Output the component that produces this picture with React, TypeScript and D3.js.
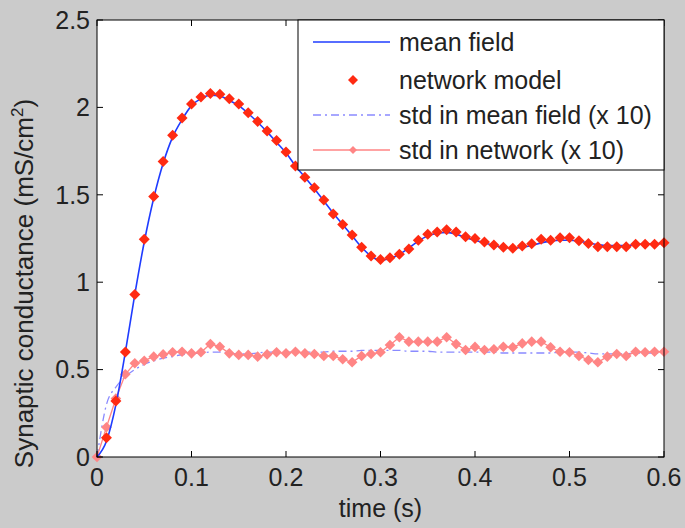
import React from "react";
import * as d3 from "d3";

const TIME = [0, 0.01, 0.02, 0.03, 0.04, 0.05, 0.06, 0.07, 0.08, 0.09, 0.1, 0.11, 0.12, 0.13, 0.14, 0.15, 0.16, 0.17, 0.18, 0.19, 0.2, 0.21, 0.22, 0.23, 0.24, 0.25, 0.26, 0.27, 0.28, 0.29, 0.3, 0.31, 0.32, 0.33, 0.34, 0.35, 0.36, 0.37, 0.38, 0.39, 0.4, 0.41, 0.42, 0.43, 0.44, 0.45, 0.46, 0.47, 0.48, 0.49, 0.5, 0.51, 0.52, 0.53, 0.54, 0.55, 0.56, 0.57, 0.58, 0.59, 0.6];

const MEAN_FIELD = [0, 0.09, 0.3, 0.6, 0.93, 1.23, 1.48, 1.68, 1.83, 1.93, 2.01, 2.05, 2.07, 2.065, 2.04, 2.01, 1.965, 1.915, 1.86, 1.8, 1.74, 1.665, 1.6, 1.535, 1.465, 1.395, 1.33, 1.265, 1.2, 1.15, 1.125, 1.135, 1.16, 1.195, 1.235, 1.265, 1.28, 1.285, 1.275, 1.255, 1.24, 1.225, 1.21, 1.2, 1.195, 1.2, 1.21, 1.225, 1.235, 1.24, 1.24, 1.235, 1.225, 1.215, 1.21, 1.21, 1.21, 1.215, 1.22, 1.22, 1.225];

// network model sampled at TIME[1..60]
const NETWORK = [0.11, 0.32, 0.6, 0.93, 1.245, 1.49, 1.69, 1.84, 1.94, 2.02, 2.06, 2.08, 2.075, 2.05, 2.02, 1.97, 1.92, 1.865, 1.81, 1.745, 1.665, 1.6, 1.54, 1.47, 1.39, 1.33, 1.27, 1.2, 1.15, 1.13, 1.14, 1.16, 1.19, 1.24, 1.275, 1.287, 1.3, 1.287, 1.26, 1.25, 1.23, 1.213, 1.2, 1.194, 1.207, 1.22, 1.245, 1.24, 1.255, 1.255, 1.237, 1.222, 1.203, 1.203, 1.203, 1.203, 1.217, 1.217, 1.217, 1.226];

const STD_MEAN_FIELD = [0, 0.3, 0.4, 0.46, 0.5, 0.53, 0.55, 0.565, 0.575, 0.585, 0.59, 0.595, 0.6, 0.6, 0.595, 0.59, 0.59, 0.595, 0.6, 0.6, 0.6, 0.6, 0.6, 0.6, 0.6, 0.605, 0.605, 0.605, 0.61, 0.61, 0.61, 0.61, 0.61, 0.605, 0.605, 0.605, 0.6, 0.6, 0.6, 0.6, 0.6, 0.6, 0.6, 0.595, 0.595, 0.595, 0.595, 0.595, 0.595, 0.6, 0.6, 0.6, 0.595, 0.59, 0.59, 0.59, 0.59, 0.595, 0.595, 0.595, 0.595];

const STD_NETWORK = [0, 0.17, 0.335, 0.473, 0.536, 0.551, 0.574, 0.587, 0.599, 0.602, 0.593, 0.599, 0.646, 0.631, 0.593, 0.584, 0.584, 0.574, 0.587, 0.599, 0.593, 0.602, 0.593, 0.589, 0.578, 0.578, 0.559, 0.542, 0.578, 0.589, 0.599, 0.641, 0.685, 0.66, 0.66, 0.66, 0.66, 0.685, 0.646, 0.612, 0.63, 0.612, 0.616, 0.631, 0.628, 0.65, 0.66, 0.66, 0.628, 0.602, 0.599, 0.578, 0.555, 0.542, 0.574, 0.589, 0.578, 0.602, 0.599, 0.602, 0.602];

const X_TICKS = [0, 0.1, 0.2, 0.3, 0.4, 0.5, 0.6];
const Y_TICKS = [0, 0.5, 1, 1.5, 2, 2.5];
const LEGEND = ["mean field", "network model", "std in mean field (x 10)", "std in network (x 10)"];

const W = 685, H = 528;
const L = 97, R = 664, T = 20, B = 457;
const BLUE = "#1f3cff", RED = "#ff2a12", LBLUE = "#8a8aff", PINK = "#ff8585";
const FONT = "'Liberation Sans', Arial, sans-serif";

export default function App() {
  const x = d3.scaleLinear().domain([0, 0.6]).range([L, R]);
  const y = d3.scaleLinear().domain([0, 2.5]).range([B, T]);
  const line = d3.line<[number, number]>().x(d => x(d[0])).y(d => y(d[1])).curve(d3.curveMonotoneX);
  const mf = line(TIME.map((t, i) => [t, MEAN_FIELD[i]]) as [number, number][]) || "";
  const smf = line(TIME.map((t, i) => [t, STD_MEAN_FIELD[i]]) as [number, number][]) || "";
  const lin = d3.line<[number, number]>().x(d => x(d[0])).y(d => y(d[1]));
  const sn = lin(TIME.map((t, i) => [t, STD_NETWORK[i]]) as [number, number][]) || "";
  const diamond = (cx: number, cy: number, r: number) => `M${cx},${cy - r}L${cx + r},${cy}L${cx},${cy + r}L${cx - r},${cy}Z`;
  const tk = 6;
  const legRows = [42, 80, 115, 150];
  return (
    <svg width={W} height={H} style={{ position: "absolute", left: 0, top: 0 }} fontFamily={FONT}>
      <rect x={0} y={0} width={W} height={H} fill="#cbcbcb" />
      <rect x={L} y={T} width={R - L} height={B - T} fill="#fff" />
      {/* std in mean field */}
      <path d={smf} fill="none" stroke={LBLUE} strokeWidth={1.3} strokeDasharray="8,4,2,4" />
      {/* std in network */}
      <path d={sn} fill="none" stroke={PINK} strokeWidth={1.3} />
      {TIME.map((t, i) => (
        <path key={"s" + i} d={diamond(x(t), y(STD_NETWORK[i]), 5.3)} fill={PINK} />
      ))}
      {/* mean field */}
      <path d={mf} fill="none" stroke={BLUE} strokeWidth={1.6} />
      {NETWORK.map((v, i) => (
        <path key={"n" + i} d={diamond(x(TIME[i + 1]), y(v), 5.5)} fill={RED} />
      ))}
      {/* axes box */}
      <rect x={L} y={T} width={R - L} height={B - T} fill="none" stroke="#000" strokeWidth={1} />
      {X_TICKS.map(t => (
        <g key={"x" + t}>
          <line x1={x(t)} x2={x(t)} y1={B} y2={B - tk} stroke="#000" />
          <line x1={x(t)} x2={x(t)} y1={T} y2={T + tk} stroke="#000" />
          <text x={x(t)} y={B + 29} textAnchor="middle" fontSize={25} fill="#222">{String(t)}</text>
        </g>
      ))}
      {Y_TICKS.map(v => (
        <g key={"y" + v}>
          <line x1={L} x2={L + tk} y1={y(v)} y2={y(v)} stroke="#000" />
          <line x1={R} x2={R - tk} y1={y(v)} y2={y(v)} stroke="#000" />
          <text x={L - 7} y={y(v)} dy="0.35em" textAnchor="end" fontSize={25} fill="#222">{String(v)}</text>
        </g>
      ))}
      <text x={(L + R) / 2} y={517} textAnchor="middle" fontSize={25} fill="#222">time (s)</text>
      <text transform={`translate(33,${(T + B) / 2 + 45}) rotate(-90)`} textAnchor="middle" fontSize={26} fill="#222">
        Synaptic conductance (mS/cm<tspan dy={-10} fontSize={17}>2</tspan><tspan dy={10}>)</tspan>
      </text>
      {/* legend */}
      <rect x={298} y={T} width={R - 298} height={150} fill="#fff" stroke="#000" strokeWidth={1} />
      <line x1={313} x2={390} y1={legRows[0]} y2={legRows[0]} stroke={BLUE} strokeWidth={1.6} />
      <path d={diamond(353, legRows[1], 5)} fill={RED} />
      <line x1={313} x2={390} y1={legRows[2]} y2={legRows[2]} stroke={LBLUE} strokeWidth={1.3} strokeDasharray="8,4,2,4" />
      <line x1={313} x2={390} y1={legRows[3]} y2={legRows[3]} stroke={PINK} strokeWidth={1.3} />
      <path d={diamond(353, legRows[3], 4)} fill={PINK} />
      {LEGEND.map((s, i) => (
        <text key={s} x={399} y={legRows[i]} dy="0.35em" fontSize={25} fill="#222">{s}</text>
      ))}
    </svg>
  );
}
